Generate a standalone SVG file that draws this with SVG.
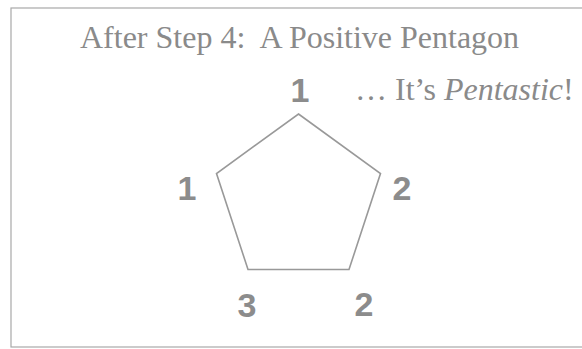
<svg xmlns="http://www.w3.org/2000/svg" width="582" height="349" viewBox="0 0 582 349">
  <style>
    .title { font-family: "Liberation Serif", "Times New Roman", serif; font-size: 32px; fill: #8a8a8a; white-space: pre; }
    .num { font-family: "Liberation Sans", Arial, sans-serif; font-size: 34px; font-weight: bold; fill: #8c8c8c; text-anchor: middle; }
    .frame { fill: #ffffff; stroke: #a8a8a8; stroke-width: 1.2; }
    .shape { fill: none; stroke: #999999; stroke-width: 1.6; stroke-linejoin: miter; }
  </style>
  <rect x="0" y="0" width="582" height="349" fill="#ffffff"/>
  <g id="frame">
    <rect class="frame" x="11" y="8" width="600" height="339"/>
  </g>
  <g id="title">
    <text class="title" x="80" y="48" xml:space="preserve">After Step 4:  A Positive Pentagon</text>
  </g>
  <g id="remark">
    <text class="title" x="355" y="100" font-size="33" xml:space="preserve">… It’s <tspan font-style="italic">Pentastic</tspan>!</text>
  </g>
  <g id="pentagon">
    <polygon class="shape" points="298.5,114 380.5,173.5 349,269.5 248,269.5 216.5,173.5"/>
  </g>
  <g id="labels">
    <text class="num" x="300" y="102">1</text>
    <text class="num" x="187" y="200">1</text>
    <text class="num" x="402" y="200">2</text>
    <text class="num" x="247" y="317">3</text>
    <text class="num" x="364" y="316">2</text>
  </g>
</svg>
